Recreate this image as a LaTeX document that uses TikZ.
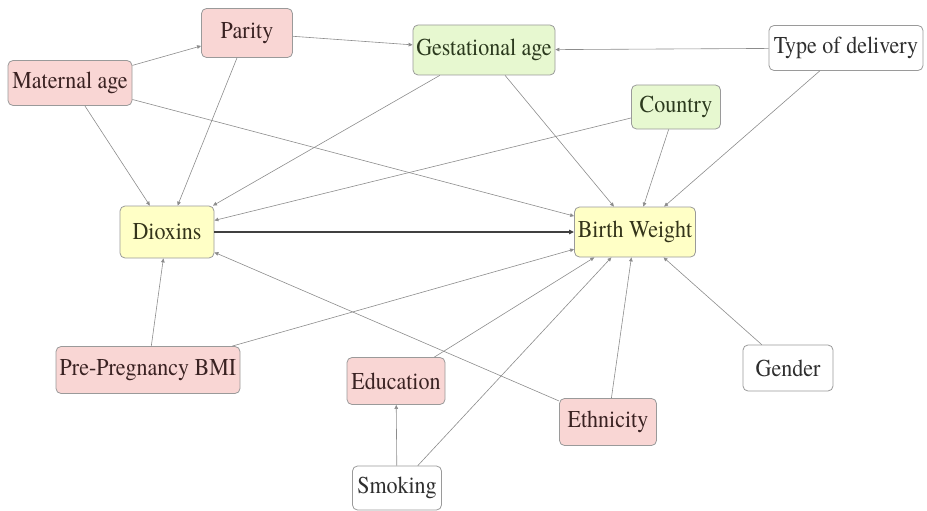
\documentclass[tikz,border=0pt]{standalone}
\usepackage{fontspec}
\usepackage{graphicx}
\newfontfamily\timesx{TeX Gyre Termes}
\usetikzlibrary{arrows.meta}
\definecolor{pinkf}{HTML}{F9D6D4}
\definecolor{greenf}{HTML}{E7F8D0}
\definecolor{yellowf}{HTML}{FFFFC6}
\definecolor{bordc}{HTML}{9A9A9A}
\definecolor{edgec}{HTML}{8C8C8C}
\definecolor{pinkt}{HTML}{3A2222}
\definecolor{greent}{HTML}{2C3A1E}
\definecolor{yellowt}{HTML}{34341A}
\definecolor{whitet}{HTML}{2E2E2E}
\newcommand{\vtxt}[1]{\scalebox{1}[1.1]{#1}}
\tikzset{
  var/.style={draw=bordc, line width=0.8pt, rounded corners=5pt, inner sep=0pt,
    font=\timesx\fontsize{22}{24}\selectfont},
  pinkv/.style={var, fill=pinkf, text=pinkt},
  greenv/.style={var, fill=greenf, text=greent},
  yellowv/.style={var, fill=yellowf, text=yellowt},
  whitev/.style={var, fill=white, text=whitet},
  edge/.style={draw=edgec, line width=0.6pt, -{Triangle[length=4pt,width=3.6pt]}},
  mainedge/.style={draw=black!75, line width=1.2pt, -{Triangle[length=5pt,width=4.5pt]}}
}
\begin{document}
\begin{tikzpicture}[x=1pt,y=-1pt]
\useasboundingbox (0,0) rectangle (927,511);
\node[pinkv, minimum width=124pt, minimum height=45pt] (mat) at (70,83) {\vtxt{Maternal age}};
\node[pinkv, minimum width=91pt, minimum height=49pt] (par) at (247,33) {\vtxt{Parity}};
\node[greenv, minimum width=142pt, minimum height=50pt] (ges) at (484,50) {\vtxt{Gestational age}};
\node[whitev, minimum width=154pt, minimum height=45pt] (typ) at (846,48) {\vtxt{Type of delivery}};
\node[greenv, minimum width=89pt, minimum height=44pt] (cou) at (676,107) {\vtxt{Country}};
\node[yellowv, minimum width=94pt, minimum height=52pt] (dio) at (167,232) {\vtxt{Dioxins}};
\node[yellowv, minimum width=121pt, minimum height=50pt] (bw) at (635,232) {\vtxt{Birth Weight}};
\node[pinkv, minimum width=184pt, minimum height=47pt] (bmi) at (148,370) {\vtxt{Pre-Pregnancy BMI}};
\node[pinkv, minimum width=98pt, minimum height=47pt] (edu) at (396,381) {\vtxt{Education}};
\node[pinkv, minimum width=97pt, minimum height=47pt] (eth) at (608,422) {\vtxt{Ethnicity}};
\node[whitev, minimum width=90pt, minimum height=46pt] (gen) at (788,368) {\vtxt{Gender}};
\node[whitev, minimum width=89pt, minimum height=44pt] (smo) at (397,488) {\vtxt{Smoking}};

\draw[edge] (mat) -- (par);
\draw[edge] (par) -- (ges);
\draw[edge] (typ) -- (ges);
\draw[edge] (mat) -- (dio);
\draw[edge] (par) -- (dio);
\draw[edge] (mat) -- (bw);
\draw[edge] (ges) -- (dio);
\draw[edge] (ges) -- (bw);
\draw[edge] (cou) -- (dio);
\draw[edge] (cou) -- (bw);
\draw[edge] (typ) -- (bw);
\draw[edge] (bmi) -- (dio);
\draw[edge] (bmi) -- (bw);
\draw[edge] (edu) -- (bw);
\draw[edge] (eth) -- (dio);
\draw[edge] (eth) -- (bw);
\draw[edge] (smo) -- (edu);
\draw[edge] (smo) -- (bw);
\draw[edge] (gen) -- (bw);
\draw[mainedge] (dio) -- (bw);
\end{tikzpicture}
\end{document}
